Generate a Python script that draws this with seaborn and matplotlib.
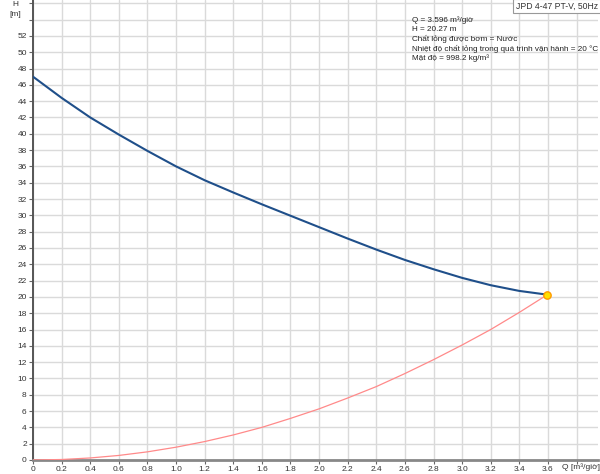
import matplotlib
matplotlib.use("Agg")
import matplotlib.pyplot as plt
import seaborn as sns
import pandas as pd

# --- data ---
q_pump = [0.0, 0.2, 0.4, 0.6, 0.8, 1.0, 1.2, 1.4, 1.6, 1.8, 2.0, 2.2, 2.4, 2.6, 2.8, 3.0, 3.2, 3.4, 3.596]
h_pump = [47.0, 44.4, 42.0, 39.9, 37.9, 36.0, 34.3, 32.8, 31.35, 29.95, 28.55, 27.15, 25.8, 24.53, 23.39, 22.33, 21.43, 20.73, 20.27]
q_sys = [0.0, 0.2, 0.4, 0.6, 0.8, 1.0, 1.2, 1.4, 1.6, 1.8, 2.0, 2.2, 2.4, 2.6, 2.8, 3.0, 3.2, 3.4, 3.596]
h_sys = [0.0, 0.06, 0.25, 0.56, 1.0, 1.57, 2.26, 3.07, 4.0, 5.1, 6.27, 7.6, 9.0, 10.6, 12.3, 14.1, 16.0, 18.1, 20.27]
duty_q = [3.596]
duty_h = [20.27]
x_ticks = [round(0.2 * i, 1) for i in range(19)]
y_ticks = list(range(0, 53, 2))
title_box = "JPD 4-47 PT-V, 50Hz"
info_lines = [
    "Q = 3.596 m³/giờ",
    "H = 20.27 m",
    "Chất lỏng được bơm = Nước",
    "Nhiệt độ chất lỏng trong quá trình vận hành = 20 °C",
    "Mật độ = 998.2 kg/m³",
]

sns.set_style("white")
plt.rcParams['font.family'] = ['Liberation Sans', 'DejaVu Sans']

fig = plt.figure(figsize=(6.0, 4.74), dpi=100)
ax = fig.add_axes([33/600, 14/474, 565/600, 460/474])

pump = pd.DataFrame({"Q": q_pump, "H": h_pump})
system = pd.DataFrame({"Q": q_sys, "H": h_sys})
duty = pd.DataFrame({"Q": duty_q, "H": duty_h})

sns.lineplot(data=system, x="Q", y="H", ax=ax, color="#ff8a8a", linewidth=0.9, zorder=3)
sns.lineplot(data=pump, x="Q", y="H", ax=ax, color="#1f4f8a", linewidth=1.5, zorder=4)
sns.scatterplot(data=duty, x="Q", y="H", ax=ax, color="#ffe000", edgecolor="#ff9a00",
                linewidth=1.0, s=28, zorder=5)

ax.set_xlim(0, 3.95)
ax.set_ylim(0, 56.4)
ax.set_xticks(x_ticks + [3.8])
ax.set_xticklabels([f"{v:.1f}" if v != 0 else "0" for v in x_ticks] + [""])
ax.set_yticks(y_ticks + [54, 56])
ax.set_yticklabels([str(v) for v in y_ticks] + ["", ""])
ax.grid(True, color="#dadada", linewidth=1.0)
ax.set_axisbelow(True)
ax.tick_params(axis="both", labelsize=6.0, length=3, width=0.8, color="#666666",
               pad=1.5, labelcolor="#333333", direction="out", left=True, bottom=True)
ax.set_xlabel("")
ax.set_ylabel("")
for s in ["top", "right"]:
    ax.spines[s].set_visible(False)
ax.spines["left"].set_color("#555555")
ax.spines["left"].set_linewidth(1.4)
ax.spines["bottom"].set_color("#888888")
ax.spines["bottom"].set_linewidth(2.0)

# axis labels
fig.text(15/600, 1 - 5/474, "H", fontsize=6.0, color="#333333", ha="center", va="center")
fig.text(15/600, 1 - 15/474, "[m]", fontsize=6.0, color="#333333", ha="center", va="center")
fig.text(581/600, 1 - 467/474, "Q [m³/giờ]", fontsize=6.0, color="#333333", ha="center", va="center")

# info text
for i, line in enumerate(info_lines):
    fig.text(412/600, 1 - (20 + i * 9.5)/474, line, fontsize=5.9, color="#222222",
             ha="left", va="center")

fig.text(557/600, 1 - 6/474, title_box, fontsize=6.2, color="#333333", ha="center", va="center",
         bbox=dict(boxstyle="square,pad=0.3", facecolor="white", edgecolor="#999999", linewidth=0.8))

fig.savefig("out.png", dpi=100)
